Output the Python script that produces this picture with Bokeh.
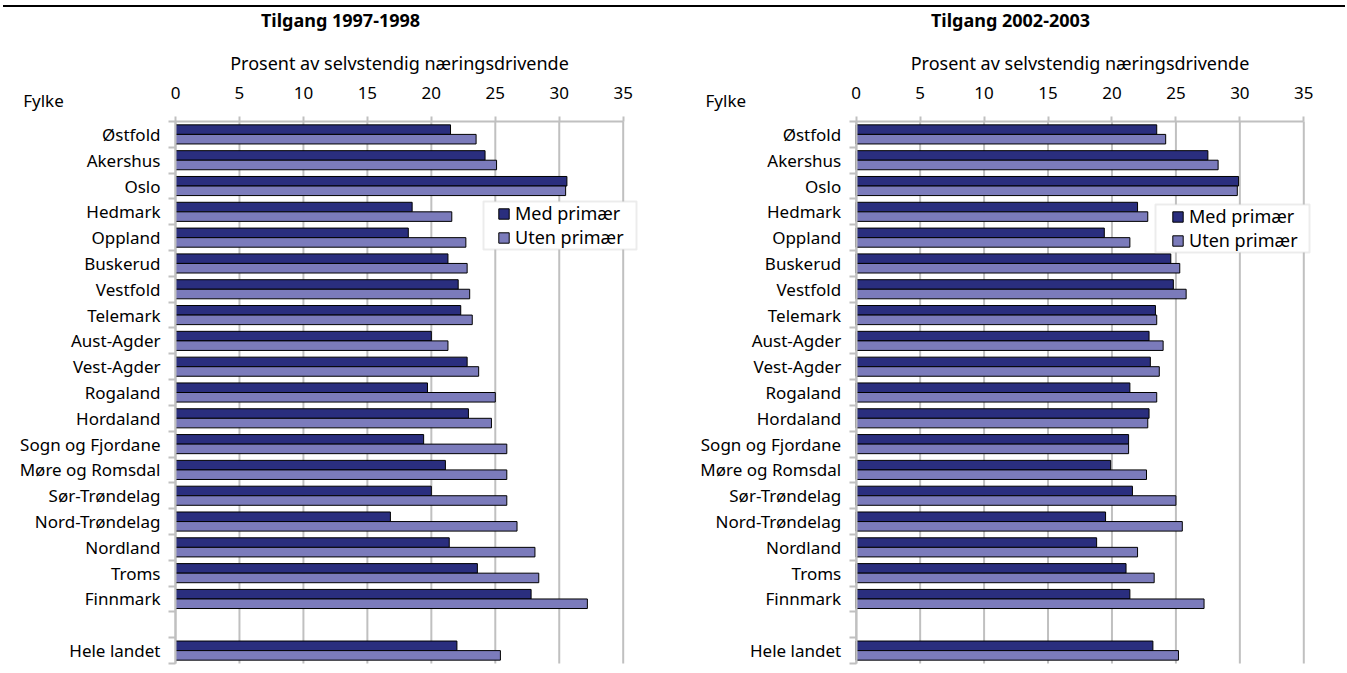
from bokeh.plotting import figure
from bokeh.models import Range1d, FixedTicker, Label, Div, LinearAxis, BoxAnnotation, Legend, LegendItem
from bokeh.layouts import row, column
from bokeh.embed import file_html
from bokeh.resources import INLINE

# ---- data ----
kategorier = ["Østfold", "Akershus", "Oslo", "Hedmark", "Oppland", "Buskerud", "Vestfold",
              "Telemark", "Aust-Agder", "Vest-Agder", "Rogaland", "Hordaland",
              "Sogn og Fjordane", "Møre og Romsdal", "Sør-Trøndelag", "Nord-Trøndelag",
              "Nordland", "Troms", "Finnmark", "", "Hele landet"]

med_1997 = [21.5, 24.2, 30.6, 18.5, 18.2, 21.3, 22.1, 22.3, 20.0, 22.8, 19.7, 22.9,
            19.4, 21.1, 20.0, 16.8, 21.4, 23.6, 27.8, 22.0]
uten_1997 = [23.5, 25.1, 30.5, 21.6, 22.7, 22.8, 23.0, 23.2, 21.3, 23.7, 25.0, 24.7,
             25.9, 25.9, 25.9, 26.7, 28.1, 28.4, 32.2, 25.4]
med_2002 = [23.5, 27.5, 29.9, 22.0, 19.4, 24.6, 24.8, 23.4, 22.9, 23.0, 21.4, 22.9,
            21.3, 19.9, 21.6, 19.5, 18.8, 21.1, 21.4, 23.2]
uten_2002 = [24.2, 28.3, 29.8, 22.8, 21.4, 25.3, 25.8, 23.5, 24.0, 23.7, 23.5, 22.8,
             21.3, 22.7, 25.0, 25.5, 22.0, 23.3, 27.2, 25.2]

x_ticks = [0, 5, 10, 15, 20, 25, 30, 35]
serier = ["Med primær", "Uten primær"]
farger = ["#2a2e7e", "#7b7bbb"]
titler = ["Tilgang 1997-1998", "Tilgang 2002-2003"]
akse_tittel = "Prosent av selvstendig næringsdrivende"
fylke_tittel = "Fylke"

FONT = "Noto Sans"
GRAY = "#c0c0c0"
n = len(kategorier)
centres = [n - i - 0.5 for i in range(n)]
navn_pos = [(c, k) for c, k in zip(centres, kategorier) if k != ""]
bar_y = [c for c, _ in navn_pos]
grenser = list(range(n + 1))

# ---- layout (pixels) ----
FIG_TOP = 7
FIG_H = 664
Y_TOP_PX, Y_BOT_PX = 121, 663


def panel(med, uten, tittel, fig_left, width, x0_px, x35_px, title_cx, fylke_x,
          box, leg_pos):
    ppx = (x35_px - x0_px) / 35.0
    ppy = (Y_BOT_PX - Y_TOP_PX) / float(n)
    xr = Range1d(-(x0_px - fig_left) / ppx, (fig_left + width - x0_px) / ppx)
    fig_bot = FIG_TOP + FIG_H
    yr = Range1d(-(fig_bot - Y_BOT_PX) / ppy, n + (Y_TOP_PX - FIG_TOP) / ppy)

    p = figure(width=width, height=FIG_H, output_backend="svg", toolbar_location=None,
               x_range=xr, y_range=yr, x_axis_location=None, y_axis_location=None,
               min_border=0, min_border_left=0, min_border_right=0,
               min_border_top=0, min_border_bottom=0)
    p.outline_line_color = None
    p.grid.visible = False
    p.background_fill_color = "white"
    p.border_fill_color = "white"

    # vertical grid lines at the x ticks, across the category band
    p.segment(x0=x_ticks, y0=0, x1=x_ticks, y1=n, line_color=GRAY, line_width=2)

    # legend frame
    p.add_layout(BoxAnnotation(left=box[0], right=box[1], top=box[2], bottom=box[3],
                               left_units="screen", right_units="screen",
                               top_units="screen", bottom_units="screen",
                               fill_color="white", fill_alpha=1,
                               line_color=GRAY, line_width=2))

    bh = 0.37
    r1 = p.hbar(y=[b + bh / 2 for b in bar_y], right=med, left=0, height=bh,
                fill_color=farger[0], line_color="black", line_width=1)
    r2 = p.hbar(y=[b - bh / 2 for b in bar_y], right=uten, left=0, height=bh,
                fill_color=farger[1], line_color="black", line_width=1)

    # x axis on top of the category band
    xa = LinearAxis(fixed_location=n, bounds=(0, 35))
    xa.ticker = FixedTicker(ticks=x_ticks)
    xa.axis_label = akse_tittel
    xa.axis_label_text_font = FONT
    xa.axis_label_text_font_size = "18px"
    xa.axis_label_text_font_style = "normal"
    xa.axis_label_text_color = "black"
    xa.axis_label_standoff = 9
    xa.major_label_text_font = FONT
    xa.major_label_text_font_size = "17px"
    xa.major_label_text_color = "black"
    xa.major_label_standoff = 18
    xa.axis_line_color = GRAY
    xa.axis_line_width = 2
    xa.major_tick_line_color = GRAY
    xa.major_tick_line_width = 2
    xa.major_tick_out = 5
    xa.major_tick_in = 0
    xa.minor_tick_line_color = None
    p.add_layout(xa, "above")

    # category axis at x = 0
    ya = LinearAxis(fixed_location=0, bounds=(0, n))
    ya.ticker = FixedTicker(ticks=[c for c, _ in navn_pos], minor_ticks=grenser)
    ya.major_label_overrides = {c: k for c, k in navn_pos}
    ya.major_label_text_font = FONT
    ya.major_label_text_font_size = "17px"
    ya.major_label_text_color = "black"
    ya.major_tick_line_color = None
    ya.major_tick_out = 0
    ya.major_tick_in = 0
    ya.major_label_standoff = 8
    ya.minor_tick_line_color = GRAY
    ya.minor_tick_line_width = 2
    ya.minor_tick_out = 7
    ya.minor_tick_in = 0
    ya.axis_line_color = GRAY
    ya.axis_line_width = 2
    p.add_layout(ya, "left")

    lg = Legend(items=[LegendItem(label=serier[0], renderers=[r1]),
                       LegendItem(label=serier[1], renderers=[r2])],
                location=leg_pos, border_line_color=None, background_fill_alpha=0,
                padding=0, spacing=-5, margin=0, label_height=20, glyph_height=13,
                glyph_width=13, label_standoff=5, label_text_font=FONT,
                label_text_font_size="18px", label_text_color="black")
    p.add_layout(lg)

    p.add_layout(Label(x=title_cx - fig_left, y=fig_bot - 19, x_units="screen",
                       y_units="screen", text=tittel, text_font=FONT,
                       text_font_size="18px", text_font_style="bold",
                       text_align="center", text_baseline="middle", text_color="black"))
    p.add_layout(Label(x=fylke_x - fig_left, y=fig_bot - 100, x_units="screen",
                       y_units="screen", text=fylke_tittel, text_font=FONT,
                       text_font_size="17px", text_align="left",
                       text_baseline="middle", text_color="black"))
    return p


FB = FIG_TOP + FIG_H
p1 = panel(med_1997, uten_1997, titler[0], 0, 673, 175.0, 622.7, 340, 22.7,
           (483, 636, FB - 201, FB - 249), (497, FB - 249))
p2 = panel(med_2002, uten_2002, titler[1], 673, 672, 855.7, 1303.3, 1010, 705,
           (482, 636, FB - 204, FB - 252), (498, FB - 252))

linje = Div(text="", width=1342, height=2, margin=(5, 0, 0, 3),
            styles={"background-color": "black"})
layout = column(linje, row(p1, p2, spacing=0), spacing=0)

open("out.html", "w").write(file_html(layout, INLINE))
